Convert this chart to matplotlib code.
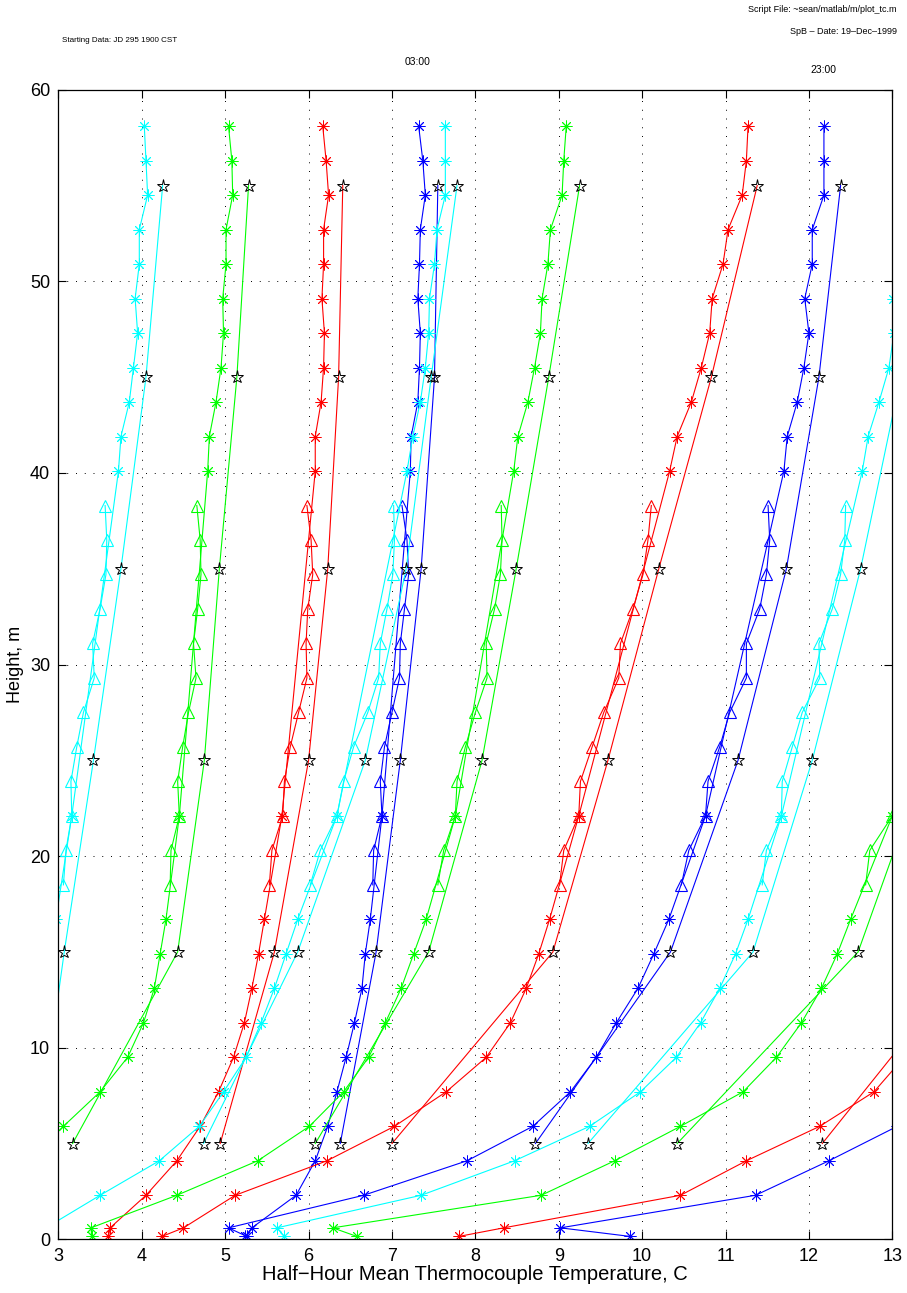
"""
Half-hour mean thermocouple temperature profiles (tower + triangle array +
star sensors), MATLAB-style waterfall of 12 consecutive profiles.
"""

import matplotlib

matplotlib.use("Agg")
import matplotlib.pyplot as plt

plt.rcParams["font.family"] = ["Liberation Sans", "DejaVu Sans"]

# ---- heights of the three sensor sets (m) ----
ht_ast = [0.15, 0.6, 2.3, 4.1, 5.9, 7.7, 9.5, 11.3, 13.1, 14.9, 16.7, 22.1,
          40.1, 41.9, 43.7, 45.5, 47.3, 49.1, 50.9, 52.7, 54.5, 56.3, 58.1]
ht_tri = [18.5, 20.3, 22.1, 23.9, 25.7, 27.5, 29.3, 31.1, 32.9, 34.7, 36.5, 38.3]
ht_star = [5, 15, 25, 35, 45, 55]

# ---- profile temperatures (C) ----
c1_ast = [1.6, 1.7, 2.1, 2.35, 2.5, 2.6, 2.7, 2.78, 2.85, 2.9, 2.97, 3.16,
          3.72, 3.75, 3.85, 3.90, 3.95, 3.92, 3.97, 3.97, 4.07, 4.05, 4.03]
c1_tri = [3.06, 3.09, 3.16, 3.15, 3.22, 3.30, 3.43, 3.41, 3.50, 3.57, 3.58, 3.56]
c1_star = [2.75, 3.07, 3.42, 3.75, 4.05, 4.25]

g1_ast = [1.9, 2.0, 2.3, 2.65, 3.06, 3.50, 3.83, 4.02, 4.15, 4.22, 4.29, 4.45,
          4.79, 4.81, 4.89, 4.95, 4.98, 4.97, 5.01, 5.01, 5.09, 5.08, 5.04]
g1_tri = [4.34, 4.35, 4.45, 4.43, 4.49, 4.56, 4.65, 4.62, 4.67, 4.71, 4.70, 4.66]
g1_star = [3.17, 4.43, 4.75, 4.93, 5.14, 5.28]

r1_ast = [3.60, 3.62, 4.05, 4.42, 4.70, 4.92, 5.10, 5.23, 5.32, 5.40, 5.47, 5.68,
          6.08, 6.08, 6.15, 6.18, 6.19, 6.16, 6.18, 6.18, 6.24, 6.21, 6.17]
r1_tri = [5.53, 5.56, 5.69, 5.71, 5.78, 5.88, 5.98, 5.97, 5.99, 6.05, 6.03, 5.98]
r1_star = [4.94, 5.59, 6.00, 6.23, 6.36, 6.41]

b1_ast = [5.24, 5.32, 5.85, 6.08, 6.23, 6.34, 6.45, 6.55, 6.64, 6.68, 6.74, 6.88,
          7.22, 7.23, 7.31, 7.33, 7.34, 7.31, 7.33, 7.34, 7.40, 7.37, 7.32]
b1_tri = [6.77, 6.78, 6.88, 6.86, 6.91, 7.00, 7.09, 7.10, 7.15, 7.20, 7.18, 7.12]
b1_star = [6.38, 6.81, 7.10, 7.35, 7.51, 7.55]

c2_ast = [2.7, 2.85, 3.50, 4.21, 4.69, 4.98, 5.25, 5.43, 5.59, 5.73, 5.87, 6.34,
          7.18, 7.25, 7.34, 7.40, 7.44, 7.45, 7.51, 7.54, 7.64, 7.64, 7.64]
c2_tri = [6.02, 6.14, 6.34, 6.42, 6.54, 6.71, 6.84, 6.86, 6.94, 7.01, 7.03, 7.02]
c2_star = [4.74, 5.87, 6.68, 7.17, 7.47, 7.78]

g2_ast = [3.40, 3.39, 4.42, 5.39, 6.01, 6.42, 6.72, 6.92, 7.11, 7.26, 7.41, 7.76,
          8.46, 8.51, 8.63, 8.71, 8.78, 8.80, 8.87, 8.90, 9.04, 9.06, 9.09]
g2_tri = [7.55, 7.62, 7.76, 7.78, 7.88, 8.00, 8.14, 8.13, 8.23, 8.30, 8.32, 8.31]
g2_star = [6.08, 7.44, 8.08, 8.49, 8.88, 9.25]

r2_ast = [4.24, 4.50, 5.12, 6.22, 7.03, 7.65, 8.13, 8.42, 8.61, 8.76, 8.89, 9.24,
          10.33, 10.42, 10.59, 10.71, 10.81, 10.84, 10.97, 11.03, 11.20, 11.25, 11.27]
r2_tri = [9.01, 9.06, 9.24, 9.26, 9.40, 9.54, 9.72, 9.74, 9.89, 10.01, 10.07, 10.11]
r2_star = [7.00, 8.93, 9.59, 10.20, 10.83, 11.38]

b2_ast = [5.26, 5.04, 6.66, 7.90, 8.69, 9.14, 9.45, 9.69, 9.95, 10.14, 10.32, 10.76,
          11.70, 11.74, 11.86, 11.94, 12.00, 11.95, 12.04, 12.04, 12.18, 12.18, 12.18]
b2_tri = [10.47, 10.56, 10.76, 10.79, 10.93, 11.05, 11.25, 11.25, 11.41, 11.49, 11.53, 11.51]
b2_star = [8.72, 10.34, 11.15, 11.73, 12.12, 12.38]

c3_ast = [5.71, 5.62, 7.35, 8.47, 9.37, 9.98, 10.41, 10.70, 10.93, 11.12, 11.27, 11.67,
          12.64, 12.71, 12.84, 12.96, 13.02, 13.01, 13.10, 13.15, 13.20, 13.22, 13.25]
c3_tri = [11.44, 11.49, 11.67, 11.68, 11.80, 11.92, 12.13, 12.12, 12.28, 12.38, 12.43, 12.44]
c3_star = [9.35, 11.33, 12.04, 12.62, 13.10, 13.30]

g3_ast = [6.58, 6.29, 8.79, 9.67, 10.46, 11.21, 11.61, 11.91, 12.15, 12.34, 12.50, 13.00,
          13.85, 13.90, 14.00, 14.10, 14.15, 14.15, 14.20, 14.25, 14.35, 14.35, 14.40]
g3_tri = [12.68, 12.73, 13.00, 13.15, 13.30, 13.45, 13.60, 13.60, 13.75, 13.85, 13.90, 13.90]
g3_star = [10.42, 12.59, 13.41, 13.90, 14.30, 14.60]

r3_ast = [7.80, 8.34, 10.46, 11.25, 12.13, 12.78, 13.14, 13.40, 13.60, 13.75, 13.90, 14.30,
          15.20, 15.30, 15.40, 15.50, 15.55, 15.60, 15.65, 15.70, 15.80, 15.85, 15.90]
r3_tri = [14.10, 14.20, 14.30, 14.40, 14.50, 14.60, 14.75, 14.80, 14.90, 15.00, 15.05, 15.10]
r3_star = [12.16, 14.00, 14.60, 15.10, 15.60, 15.90]

b3_ast = [9.86, 9.02, 11.36, 12.24, 13.06, 13.60, 14.00, 14.30, 14.50, 14.70, 14.85, 15.30,
          16.20, 16.30, 16.40, 16.50, 16.55, 16.60, 16.65, 16.70, 16.80, 16.85, 16.90]
b3_tri = [15.10, 15.20, 15.30, 15.40, 15.50, 15.60, 15.75, 15.80, 15.90, 16.00, 16.05, 16.10]
b3_star = [13.60, 15.00, 15.60, 16.10, 16.60, 16.90]

profile_colors = ["c", "g", "r", "b"] * 3
profiles = [
    (c1_ast, c1_tri, c1_star), (g1_ast, g1_tri, g1_star),
    (r1_ast, r1_tri, r1_star), (b1_ast, b1_tri, b1_star),
    (c2_ast, c2_tri, c2_star), (g2_ast, g2_tri, g2_star),
    (r2_ast, r2_tri, r2_star), (b2_ast, b2_tri, b2_star),
    (c3_ast, c3_tri, c3_star), (g3_ast, g3_tri, g3_star),
    (r3_ast, r3_tri, r3_star), (b3_ast, b3_tri, b3_star),
]

MATLAB_COLORS = {"c": (0, 1, 1), "g": (0, 1, 0), "r": (1, 0, 0), "b": (0, 0, 1)}
ASTERISK = (8, 2, 0)


def main():
    fig = plt.figure(figsize=(9.07, 12.93), dpi=100)
    ax = fig.add_axes([0.0644, 0.0415, 0.9194, 0.8891])

    for key, (t_ast, t_tri, t_star) in zip(profile_colors, profiles):
        col = MATLAB_COLORS[key]
        ax.plot(t_ast, ht_ast, color=col, lw=0.8, marker=ASTERISK, ms=8.5,
                mew=0.65)
        ax.plot(t_tri, ht_tri, color=col, lw=0.8, marker="^", ms=9,
                mfc="none", mec=col, mew=0.8)
        ax.plot(t_star, ht_star, color=col, lw=0.8, marker="*", ms=9.5,
                mfc="none", mec="k", mew=0.7)

    ax.set_xlim(3, 13)
    ax.set_ylim(0, 60)
    ax.set_xticks(range(3, 14))
    ax.set_yticks(range(0, 61, 10))
    ax.grid(True, color="k", linestyle=(0, (1, 8)), linewidth=0.7)
    ax.tick_params(direction="in", length=6, width=0.8, top=True, right=True,
                   labelsize=13, pad=6)
    for sp in ax.spines.values():
        sp.set_linewidth(0.9)

    ax.set_xlabel("Half\u2212Hour Mean Thermocouple Temperature, C",
                  fontsize=14.5, labelpad=0)
    ax.set_ylabel("Height, m", fontsize=13, labelpad=4)

    fig.text(62 / 907, 1 - 40 / 1293, "Starting Data: JD 295 1900 CST",
             fontsize=5.8, ha="left", va="center")
    fig.text(897 / 907, 1 - 10 / 1293, "Script File: ~sean/matlab/m/plot_tc.m",
             fontsize=6.5, ha="right", va="center")
    fig.text(897 / 907, 1 - 31 / 1293, "SpB \u2013 Date: 19\u2013Dec\u20131999",
             fontsize=6.5, ha="right", va="center")
    fig.text(418 / 907, 1 - 62 / 1293, "03:00", fontsize=7.5, ha="center",
             va="center")
    fig.text(823 / 907, 1 - 70 / 1293, "23:00", fontsize=7.5, ha="center",
             va="center")

    fig.savefig("out.png", dpi=100)
    plt.close(fig)


if __name__ == "__main__":
    main()
